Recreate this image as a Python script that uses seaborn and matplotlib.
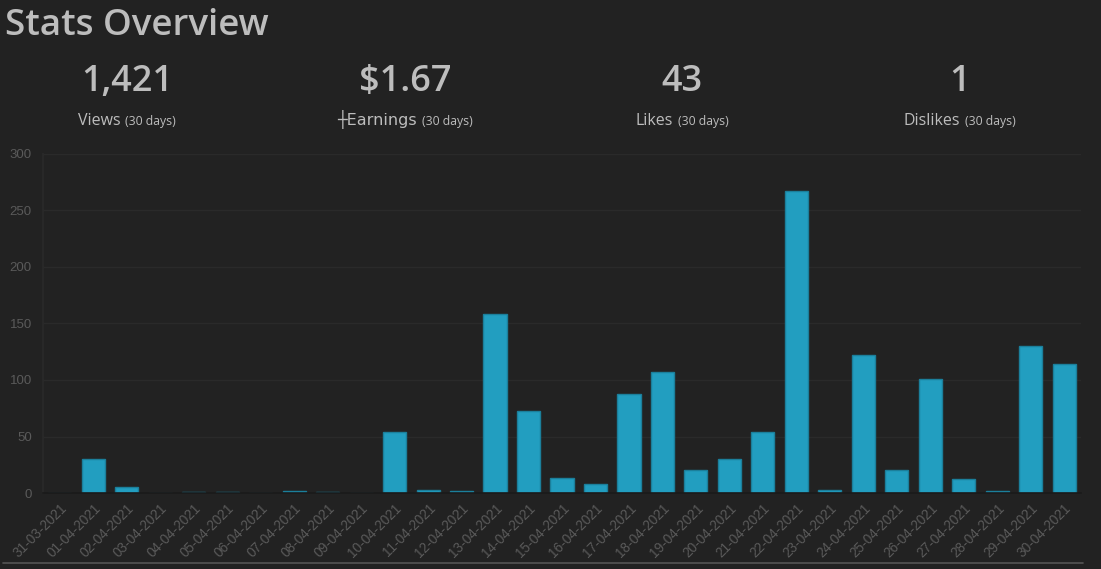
import matplotlib
matplotlib.use('Agg')
import matplotlib.pyplot as plt
import seaborn as sns
import pandas as pd
from matplotlib.lines import Line2D

# ---- data ----
dates = ['31-03-2021', '01-04-2021', '02-04-2021', '03-04-2021', '04-04-2021', '05-04-2021',
         '06-04-2021', '07-04-2021', '08-04-2021', '09-04-2021', '10-04-2021', '11-04-2021',
         '12-04-2021', '13-04-2021', '14-04-2021', '15-04-2021', '16-04-2021', '17-04-2021',
         '18-04-2021', '19-04-2021', '20-04-2021', '21-04-2021', '22-04-2021', '23-04-2021',
         '24-04-2021', '25-04-2021', '26-04-2021', '27-04-2021', '28-04-2021', '29-04-2021',
         '30-04-2021']
views = [0, 30, 5, 0, 1, 1, 0, 2, 1, 0, 54, 3, 2, 158, 73, 13, 8, 88,
         107, 20, 30, 54, 267, 3, 122, 20, 101, 12, 2, 130, 114]

stat_values = ['1,421', '$1.67', '43', '1']
stat_names = ['Views', '\u253cEarnings', 'Likes', 'Dislikes']
stat_suffix = '(30 days)'
stat_centers = [127, 405, 682, 960]  # pixel x of each stat block

# ---- style ----
bg = '#222222'
bar_color = '#229ec0'
bar_edge = '#1b7f9b'
text_col = '#bdbdbd'
tick_col = '#5a5a5a'

sns.set_theme(style='dark')
plt.rcParams['font.family'] = ['Open Sans', 'DejaVu Sans']

W, H = 1101, 569
fig = plt.figure(figsize=(W / 100, H / 100), dpi=100, facecolor=bg)
ax = fig.add_axes([43 / W, 1 - 493 / H, (1081 - 43) / W, (493 - 154) / H])
ax.set_facecolor(bg)

df = pd.DataFrame({'date': dates, 'views': views})
sns.barplot(data=df, x='date', y='views', color=bar_color, saturation=1,
            edgecolor=bar_edge, linewidth=1, width=0.69, ax=ax)

ax.set_ylim(0, 300)
ax.set_yticks(range(0, 301, 50))
ax.set_xlabel('')
ax.set_ylabel('')
ax.grid(axis='y', color='#2a2a2a', linewidth=1)
ax.grid(axis='x', visible=False)
for s in ['top', 'right']:
    ax.spines[s].set_visible(False)
ax.spines['left'].set_color('#2a2a2a')
ax.spines['bottom'].set_color('#1a1a1a')
ax.spines['bottom'].set_linewidth(1.2)

ax.tick_params(axis='y', colors=tick_col, labelsize=9.5, length=0, pad=8)
ax.tick_params(axis='x', colors=tick_col, labelsize=9.8, length=0, pad=6)
for lab in ax.get_xticklabels():
    lab.set_rotation(45)
    lab.set_ha('right')
    lab.set_rotation_mode('anchor')
    lab.set_family(['Liberation Sans', 'DejaVu Sans'])
for lab in ax.get_yticklabels():
    lab.set_family(['Liberation Sans', 'DejaVu Sans'])

# ---- header ----
fig.text(5 / W, 1 - 35 / H, 'Stats Overview', color=text_col, fontsize=26.5,
         fontweight='semibold', ha='left', va='baseline')

fig.canvas.draw()
renderer = fig.canvas.get_renderer()
for val, name, cx in zip(stat_values, stat_names, stat_centers):
    fig.text(cx / W, 1 - 91 / H, val, color=text_col, fontsize=26,
             fontweight='semibold', ha='center', va='baseline')
    t1 = fig.text(0, 1 - 125 / H, name, color=text_col, fontsize=11.5, ha='left', va='baseline',
                  family=['DejaVu Sans'] if name.startswith('\u253c') else None)
    t2 = fig.text(0, 1 - 125 / H, stat_suffix, color=text_col, fontsize=8.8, ha='left', va='baseline')
    w1 = t1.get_window_extent(renderer).width
    w2 = t2.get_window_extent(renderer).width
    gap = 5
    x0 = cx - (w1 + gap + w2) / 2
    t1.set_x(x0 / W)
    t2.set_x((x0 + w1 + gap) / W)

# bottom separator
fig.add_artist(Line2D([3 / W, 1083 / W], [1 - 563 / H, 1 - 563 / H],
                      color='#555555', linewidth=1.2, transform=fig.transFigure))

fig.savefig('out.png', dpi=100, facecolor=bg)
